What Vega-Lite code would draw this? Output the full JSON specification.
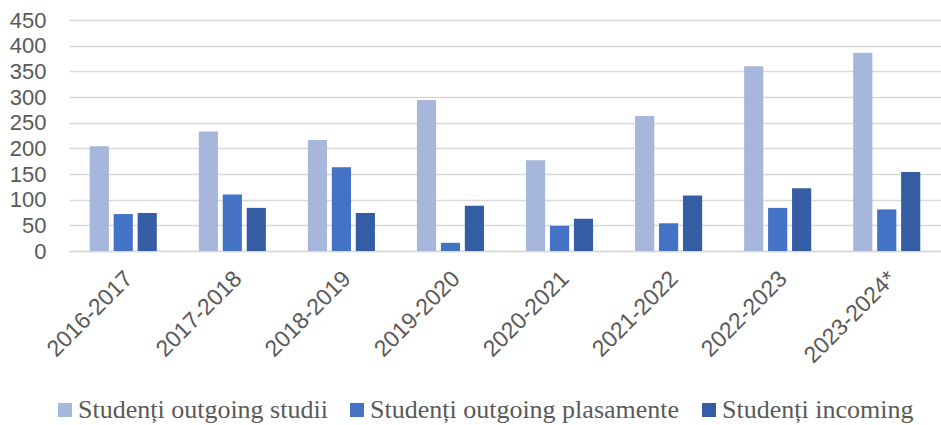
{
  "$schema": "https://vega.github.io/schema/vega-lite/v6.json",
  "width": 872,
  "height": 231,
  "autosize": {"type": "none"},
  "padding": {"left": 69, "top": 20, "right": 0, "bottom": 174},
  "background": "white",
  "config": {"view": {"stroke": null}, "font": "Liberation Sans"},
  "data": {
    "values": [
      {"an": "2016-2017", "serie": "Studenți outgoing studii", "valoare": 204},
      {"an": "2016-2017", "serie": "Studenți outgoing plasamente", "valoare": 72},
      {"an": "2016-2017", "serie": "Studenți incoming", "valoare": 74},
      {"an": "2017-2018", "serie": "Studenți outgoing studii", "valoare": 233},
      {"an": "2017-2018", "serie": "Studenți outgoing plasamente", "valoare": 110},
      {"an": "2017-2018", "serie": "Studenți incoming", "valoare": 84},
      {"an": "2018-2019", "serie": "Studenți outgoing studii", "valoare": 216},
      {"an": "2018-2019", "serie": "Studenți outgoing plasamente", "valoare": 163},
      {"an": "2018-2019", "serie": "Studenți incoming", "valoare": 74},
      {"an": "2019-2020", "serie": "Studenți outgoing studii", "valoare": 294},
      {"an": "2019-2020", "serie": "Studenți outgoing plasamente", "valoare": 16},
      {"an": "2019-2020", "serie": "Studenți incoming", "valoare": 88},
      {"an": "2020-2021", "serie": "Studenți outgoing studii", "valoare": 177},
      {"an": "2020-2021", "serie": "Studenți outgoing plasamente", "valoare": 49},
      {"an": "2020-2021", "serie": "Studenți incoming", "valoare": 63},
      {"an": "2021-2022", "serie": "Studenți outgoing studii", "valoare": 263},
      {"an": "2021-2022", "serie": "Studenți outgoing plasamente", "valoare": 54},
      {"an": "2021-2022", "serie": "Studenți incoming", "valoare": 108},
      {"an": "2022-2023", "serie": "Studenți outgoing studii", "valoare": 360},
      {"an": "2022-2023", "serie": "Studenți outgoing plasamente", "valoare": 84},
      {"an": "2022-2023", "serie": "Studenți incoming", "valoare": 122},
      {"an": "2023-2024*", "serie": "Studenți outgoing studii", "valoare": 386},
      {"an": "2023-2024*", "serie": "Studenți outgoing plasamente", "valoare": 81},
      {"an": "2023-2024*", "serie": "Studenți incoming", "valoare": 154}
    ]
  },
  "mark": {"type": "bar"},
  "encoding": {
    "x": {
      "field": "an",
      "type": "nominal",
      "sort": null,
      "scale": {"paddingInner": 0.385, "paddingOuter": 0.19},
      "axis": {
        "title": null,
        "labelAngle": -45,
        "labelAlign": "right",
        "labelBaseline": "top",
        "labelPadding": 16,
        "labelOffset": -2,
        "ticks": false,
        "domainColor": "#D9D9D9",
        "domainWidth": 1.5,
        "labelFont": "Liberation Sans",
        "labelFontSize": 23,
        "labelColor": "#595959",
        "labelOverlap": false
      }
    },
    "xOffset": {
      "field": "serie",
      "type": "nominal",
      "sort": ["Studenți outgoing studii", "Studenți outgoing plasamente", "Studenți incoming"],
      "scale": {"paddingInner": 0.2, "paddingOuter": 0}
    },
    "y": {
      "field": "valoare",
      "type": "quantitative",
      "scale": {"domain": [0, 450], "nice": false},
      "axis": {
        "title": null,
        "values": [0, 50, 100, 150, 200, 250, 300, 350, 400, 450],
        "ticks": false,
        "domain": false,
        "gridColor": "#D9D9D9",
        "gridWidth": 1.5,
        "labelPadding": 23,
        "labelFont": "Liberation Sans",
        "labelFontSize": 22,
        "labelColor": "#595959"
      }
    },
    "color": {
      "field": "serie",
      "type": "nominal",
      "sort": ["Studenți outgoing studii", "Studenți outgoing plasamente", "Studenți incoming"],
      "scale": {
        "domain": ["Studenți outgoing studii", "Studenți outgoing plasamente", "Studenți incoming"],
        "range": ["#A7B6DB", "#4472C4", "#355DA3"]
      },
      "legend": {
        "title": null,
        "orient": "none",
        "legendX": -17,
        "legendY": 377,
        "direction": "horizontal",
        "symbolType": "square",
        "symbolSize": 196,
        "symbolStrokeWidth": 0,
        "labelFont": "Liberation Serif",
        "labelFontSize": 26,
        "labelColor": "#595959",
        "labelLimit": 500,
        "columnPadding": 16,
        "labelOffset": 0,
        "padding": 0
      }
    }
  }
}
